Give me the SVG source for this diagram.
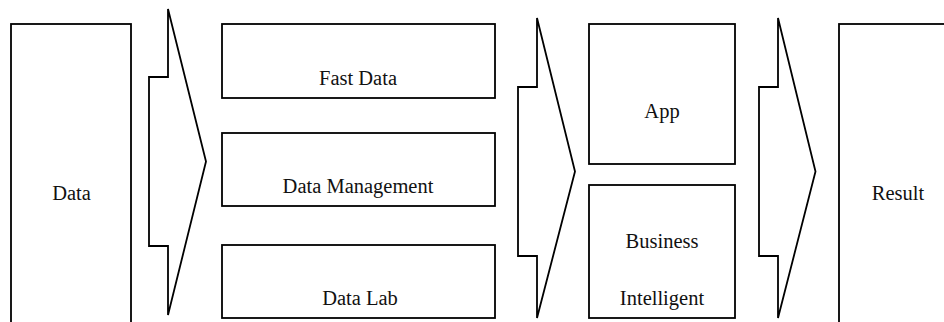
<svg xmlns="http://www.w3.org/2000/svg" width="944" height="322" viewBox="0 0 944 322">
<style>
.box{fill:#fff;stroke:#000;stroke-width:1.8}
.arrow{fill:#fff;stroke:#000;stroke-width:1.8;stroke-linejoin:miter}
</style>
<rect width="944" height="322" fill="#fff"/>
<g font-family="Liberation Serif, serif" font-size="20.5" fill="#111" text-anchor="middle">
<g id="data"><rect class="box" x="11" y="24" width="120" height="310"/><text x="71.5" y="200">Data</text></g>
<g id="fast-data"><rect class="box" x="222" y="24" width="273" height="74"/><text x="358" y="85">Fast Data</text></g>
<g id="data-management"><rect class="box" x="222" y="133" width="273" height="73"/><text x="358" y="193">Data Management</text></g>
<g id="data-lab"><rect class="box" x="222" y="245" width="273" height="73"/><text x="360" y="305">Data Lab</text></g>
<g id="app"><rect class="box" x="589" y="24" width="146" height="140"/><text x="662" y="118">App</text></g>
<g id="business-intelligent"><rect class="box" x="589" y="185" width="146" height="133"/><text x="662" y="247.5">Business</text><text x="662" y="305">Intelligent</text></g>
<g id="result"><rect class="box" x="839" y="24" width="130" height="310"/><text x="898" y="200">Result</text></g>
</g>
<g id="connectors">
<polygon class="arrow" points="168,9 168,77 149,77 149,246 168,246 168,315 206,161.5"/>
<polygon class="arrow" points="537,18 537,87 518,87 518,256 537,256 537,318 575,171.5"/>
<polygon class="arrow" points="778,18 778,87 759,87 759,256 778,256 778,318 815.5,171.5"/>
</g>
</svg>
